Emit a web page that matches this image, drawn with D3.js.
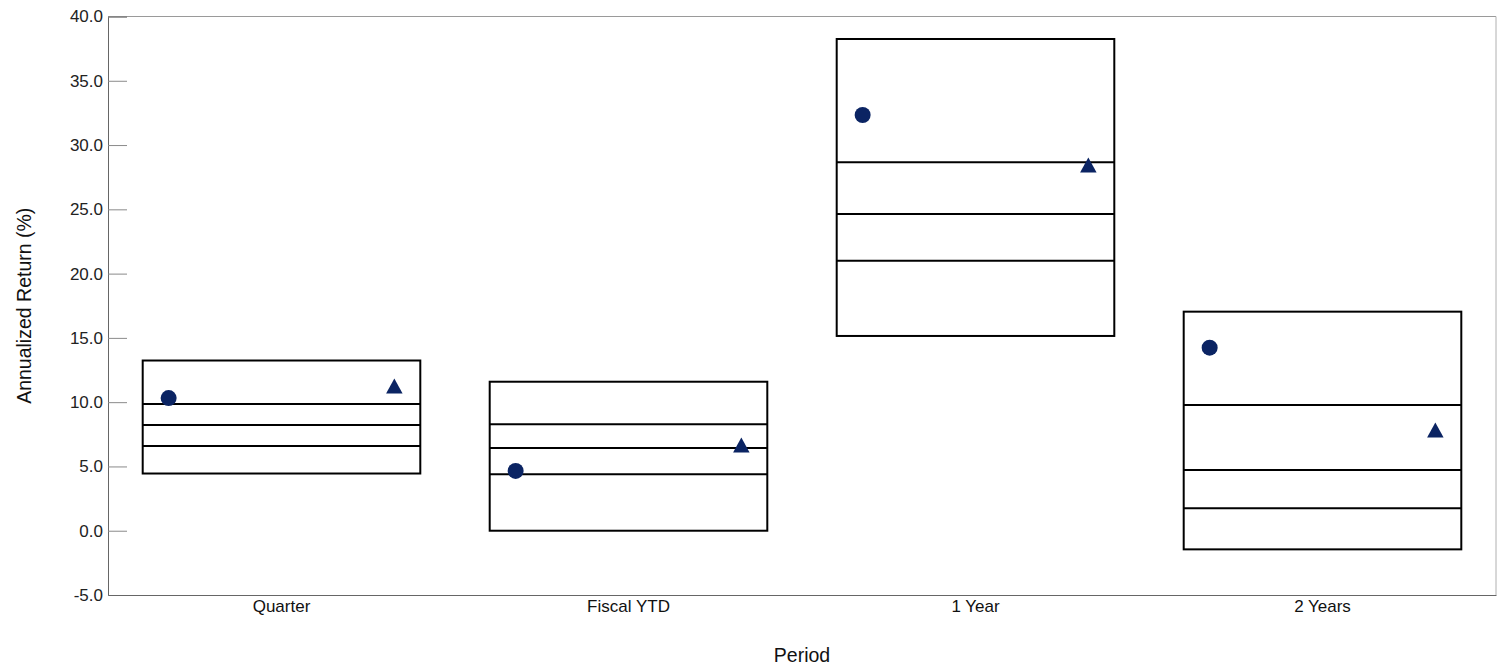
<!DOCTYPE html>
<html lang="en">
<head>
<meta charset="utf-8">
<title>Annualized Return by Period</title>
<script src="https://d3js.org/d3.v7.min.js"></script>
<style>
  body { margin: 0; background: #fff; }
  svg text { font-family: "Liberation Sans", Arial, sans-serif; }
</style>
</head>
<body>
<script>
// chart data
var categories = ["Quarter", "Fiscal YTD", "1 Year", "2 Years"];
var boxTop     = [13.24, 11.59, 38.25, 17.04];
var line25     = [9.86, 8.28, 28.66, 9.78];
var lineMedian = [8.22, 6.43, 24.64, 4.72];
var line75     = [6.59, 4.39, 21.00, 1.74];
var boxBottom  = [4.45, 0.00, 15.15, -1.45];
var fundValues  = [10.32, 4.65, 32.34, 14.24];   // circles
var indexValues = [11.26, 6.67, 28.45, 7.83];    // triangles
var yTicks = [-5, 0, 5, 10, 15, 20, 25, 30, 35, 40];

var W = 1501, H = 666;
var plotL = 108, plotR = 1496, plotT = 16.5, plotB = 595;
var navy = "#0b2463";

var svg = d3.select("body").append("svg")
  .attr("width", W).attr("height", H);

var x = d3.scaleBand()
  .domain(categories)
  .range([plotL, plotR])
  .paddingInner(0.2)
  .paddingOuter(0.1);

var y = d3.scaleLinear().domain([-5, 40]).range([plotB, plotT]);

// position of the two markers inside a box
var inner = d3.scalePoint()
  .domain(["fund", "index"])
  .range([0, x.bandwidth()])
  .padding(0.115);

// frame: top and right border
svg.append("line")
  .attr("x1", plotL).attr("x2", plotR)
  .attr("y1", plotT).attr("y2", plotT)
  .attr("stroke", "#9a9a9a").attr("stroke-width", 1);
svg.append("line")
  .attr("x1", plotR).attr("x2", plotR)
  .attr("y1", plotT).attr("y2", plotB)
  .attr("stroke", "#b0b0b0").attr("stroke-width", 1);

// y axis (plain hyphen for negatives)
var yAxis = svg.append("g")
  .attr("transform", "translate(" + plotL + ",0)")
  .call(d3.axisLeft(y).tickValues(yTicks)
    .tickFormat(function(d) { return d.toFixed(1); })
    .tickSize(-19).tickPadding(5));
yAxis.select(".domain").attr("stroke", "#666");
yAxis.selectAll(".tick line").attr("stroke", "#8a8a8a");
yAxis.selectAll("text").attr("font-size", "17px").attr("fill", "#222");

// x axis
var xAxis = svg.append("g")
  .attr("transform", "translate(0," + plotB + ")")
  .call(d3.axisBottom(x).tickSize(0).tickPadding(5));
xAxis.select(".domain").attr("stroke", "#666");
xAxis.selectAll("text").attr("font-size", "17px").attr("fill", "#111");

// axis titles
svg.append("text")
  .attr("transform", "translate(31," + ((plotT + plotB) / 2) + ") rotate(-90)")
  .attr("text-anchor", "middle")
  .attr("font-size", "19.5px")
  .attr("fill", "#111")
  .text("Annualized Return (%)");

svg.append("text")
  .attr("x", (plotL + plotR) / 2)
  .attr("y", 662)
  .attr("text-anchor", "middle")
  .attr("font-size", "19.5px")
  .attr("fill", "#111")
  .text("Period");

// boxes
var rows = categories.map(function(c, i) {
  return {cat: c, hi: boxTop[i], q1: line25[i], med: lineMedian[i], q3: line75[i],
          lo: boxBottom[i], fund: fundValues[i], index: indexValues[i]};
});

var g = svg.append("g");

g.selectAll("rect.box")
  .data(rows)
  .enter().append("rect")
  .attr("class", "box")
  .attr("x", function(d) { return x(d.cat); })
  .attr("y", function(d) { return y(d.hi); })
  .attr("width", x.bandwidth())
  .attr("height", function(d) { return y(d.lo) - y(d.hi); })
  .attr("fill", "none")
  .attr("stroke", "#000")
  .attr("stroke-width", 2);

["q1", "med", "q3"].forEach(function(k) {
  g.selectAll("line." + k)
    .data(rows)
    .enter().append("line")
    .attr("class", k)
    .attr("x1", function(d) { return x(d.cat); })
    .attr("x2", function(d) { return x(d.cat) + x.bandwidth(); })
    .attr("y1", function(d) { return y(d[k]); })
    .attr("y2", function(d) { return y(d[k]); })
    .attr("stroke", "#000")
    .attr("stroke-width", 2);
});

// fund markers (circles)
g.selectAll("circle.fund")
  .data(rows)
  .enter().append("circle")
  .attr("class", "fund")
  .attr("cx", function(d) { return x(d.cat) + inner("fund"); })
  .attr("cy", function(d) { return y(d.fund); })
  .attr("r", 8)
  .attr("fill", navy);

// index markers (triangles), centred on their bounding box
var triW = 16.5, triH = 15;
var triPath = "M0," + (-triH / 2) + "L" + (triW / 2) + "," + (triH / 2) +
              "L" + (-triW / 2) + "," + (triH / 2) + "Z";
g.selectAll("path.index")
  .data(rows)
  .enter().append("path")
  .attr("class", "index")
  .attr("d", triPath)
  .attr("transform", function(d) {
    return "translate(" + (x(d.cat) + inner("index")) + "," + y(d.index) + ")";
  })
  .attr("fill", navy);
</script>
</body>
</html>
